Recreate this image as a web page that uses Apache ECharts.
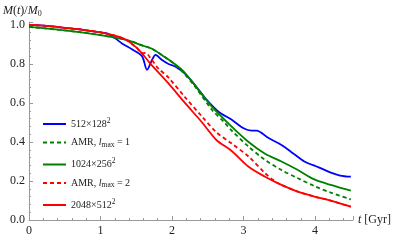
<!DOCTYPE html>
<html><head><meta charset="utf-8">
<script src="https://cdn.jsdelivr.net/npm/echarts@6/dist/echarts.min.js"></script>
<style>html,body{margin:0;padding:0;background:#fff}#c{width:399px;height:240px}</style>
</head><body><div id="c"></div>
<script>
const xTicks = [0, 1, 2, 3, 4];
const yTicks = [0.0, 0.2, 0.4, 0.6, 0.8, 1.0];

const tBlue = [0, 0.25, 0.5, 0.75, 1.0, 1.1, 1.21, 1.3, 1.44, 1.58, 1.65, 1.72, 1.77, 1.86, 1.95, 2.05, 2.18, 2.32, 2.46, 2.65, 2.83, 3.0, 3.11, 3.18, 3.35, 3.53, 3.7, 3.85, 4.05, 4.22, 4.35, 4.5];
const mBlue = [1.0, 0.995, 0.985, 0.975, 0.962, 0.955, 0.93, 0.905, 0.875, 0.84, 0.77, 0.82, 0.846, 0.82, 0.80, 0.786, 0.75, 0.692, 0.626, 0.555, 0.515, 0.47, 0.458, 0.458, 0.42, 0.385, 0.34, 0.30, 0.27, 0.243, 0.228, 0.222];

const tGreenDash = [0, 0.5, 1.0, 1.3, 1.44, 1.58, 1.72, 1.9, 2.0, 2.14, 2.32, 2.56, 2.74, 2.83, 3.07, 3.3, 3.53, 3.76, 3.99, 4.22, 4.5];
const mGreenDash = [0.99, 0.972, 0.948, 0.928, 0.914, 0.895, 0.878, 0.835, 0.808, 0.762, 0.684, 0.564, 0.497, 0.46, 0.376, 0.308, 0.256, 0.214, 0.174, 0.14, 0.106];

const tGreen = [0, 0.5, 1.0, 1.3, 1.44, 1.58, 1.72, 1.9, 2.0, 2.14, 2.28, 2.37, 2.56, 2.83, 3.07, 3.3, 3.53, 3.76, 3.99, 4.22, 4.5];
const mGreen = [0.99, 0.972, 0.948, 0.928, 0.914, 0.895, 0.878, 0.835, 0.81, 0.77, 0.71, 0.667, 0.58, 0.48, 0.40, 0.34, 0.30, 0.256, 0.208, 0.18, 0.15];

const tRedDash = [0, 0.25, 0.5, 0.75, 1.0, 1.2, 1.35, 1.5, 1.58, 1.63, 1.7, 1.8, 1.95, 2.18, 2.42, 2.62, 2.83, 3.07, 3.3, 3.44, 3.53, 3.76, 3.99, 4.18, 4.5];
const mRedDash = [1.0, 0.995, 0.985, 0.975, 0.962, 0.945, 0.925, 0.885, 0.855, 0.856, 0.83, 0.78, 0.73, 0.63, 0.53, 0.45, 0.393, 0.325, 0.24, 0.198, 0.18, 0.145, 0.12, 0.103, 0.068];

const tRed = [0, 0.25, 0.5, 0.75, 1.0, 1.2, 1.35, 1.5, 1.6, 1.7, 1.95, 2.18, 2.42, 2.62, 2.83, 3.07, 3.3, 3.53, 3.76, 3.99, 4.18, 4.5];
const mRed = [1.0, 0.995, 0.985, 0.975, 0.962, 0.945, 0.925, 0.885, 0.845, 0.80, 0.70, 0.60, 0.50, 0.41, 0.355, 0.273, 0.222, 0.18, 0.145, 0.12, 0.103, 0.068];

const names = ['512×128{sup|2}', 'AMR, {it|l}{sub|max} = 1', '1024×256{sup|2}', 'AMR, {it|l}{sub|max} = 2', '2048×512{sup|2}'];

const zip = (a, b) => a.map((v, i) => [v, b[i]]);
const serif = 'Liberation Serif';

const mk = (name, t, m, color, dashed, z) => ({
  name, type: 'line', data: zip(t, m), symbol: 'none', smooth: 0.3, z,
  lineStyle: { color, width: 1.8, type: dashed ? [4, 3] : 'solid' },
  itemStyle: { color }, emphasis: { disabled: true }
});

const chart = echarts.init(document.getElementById('c'), null, { renderer: 'canvas' });
chart.setOption({
  animation: false,
  grid: { left: 26, right: 46, top: 22, bottom: 20, containLabel: false },
  legend: {
    orient: 'vertical', left: 37, top: 112, itemWidth: 23, itemHeight: 10, itemGap: 8.5,
    data: names,
    itemStyle: { opacity: 0 },
    textStyle: {
      fontFamily: serif, fontSize: 10, color: '#222',
      rich: {
        sup: { fontFamily: serif, fontSize: 7.5, verticalAlign: 'bottom', padding: [0, 0, 6, 0] },
        sub: { fontFamily: serif, fontSize: 7.5, verticalAlign: 'top', padding: [5, 0, 0, 0] },
        it: { fontFamily: serif, fontSize: 10, fontStyle: 'italic' }
      }
    }
  },
  xAxis: {
    type: 'value', min: 0, max: 4.53, interval: 1,
    name: '{it|t} [Gyr]', nameLocation: 'end', nameGap: 5,
    nameTextStyle: { fontFamily: serif, fontSize: 12, color: '#222', verticalAlign: 'middle',
      rich: { it: { fontFamily: serif, fontSize: 12, fontStyle: 'italic' } } },
    axisLine: { show: true, lineStyle: { color: '#999', width: 1 } },
    axisTick: { show: true, inside: true, length: 4, lineStyle: { color: '#999' } },
    minorTick: { show: true, splitNumber: 5, length: 2, lineStyle: { color: '#999' } },
    splitLine: { show: false },
    axisLabel: { fontFamily: serif, fontSize: 12, color: '#222', margin: 5,
      formatter: v => xTicks.includes(v) ? String(v) : '' }
  },
  yAxis: {
    type: 'value', min: 0, max: 1.015, interval: 0.2,
    name: '{it|M}({it|t})/{it|M}{sub|0}', nameLocation: 'end', nameGap: 4,
    nameTextStyle: { fontFamily: serif, fontSize: 12, color: '#222', align: 'left', padding: [0, 0, 0, -26],
      rich: { it: { fontFamily: serif, fontSize: 12, fontStyle: 'italic' },
        sub: { fontFamily: serif, fontSize: 8, verticalAlign: 'top', padding: [6, 0, 0, 0] } } },
    axisLine: { show: true, lineStyle: { color: '#999', width: 1 } },
    axisTick: { show: true, inside: true, length: 4, lineStyle: { color: '#999' } },
    minorTick: { show: true, splitNumber: 5, length: 2, lineStyle: { color: '#999' } },
    splitLine: { show: false },
    axisLabel: { fontFamily: serif, fontSize: 12, color: '#222', margin: 4,
      formatter: v => { const t = yTicks.find(y => Math.abs(y - v) < 1e-6); return t === undefined ? '' : t.toFixed(1); } }
  },
  series: [
    mk(names[0], tBlue, mBlue, '#0000ff', false, 2),
    mk(names[1], tGreenDash, mGreenDash, '#008000', true, 3),
    mk(names[2], tGreen, mGreen, '#008000', false, 4),
    mk(names[3], tRedDash, mRedDash, '#ff0000', true, 5),
    mk(names[4], tRed, mRed, '#ff0000', false, 6)
  ]
});
</script></body></html>
